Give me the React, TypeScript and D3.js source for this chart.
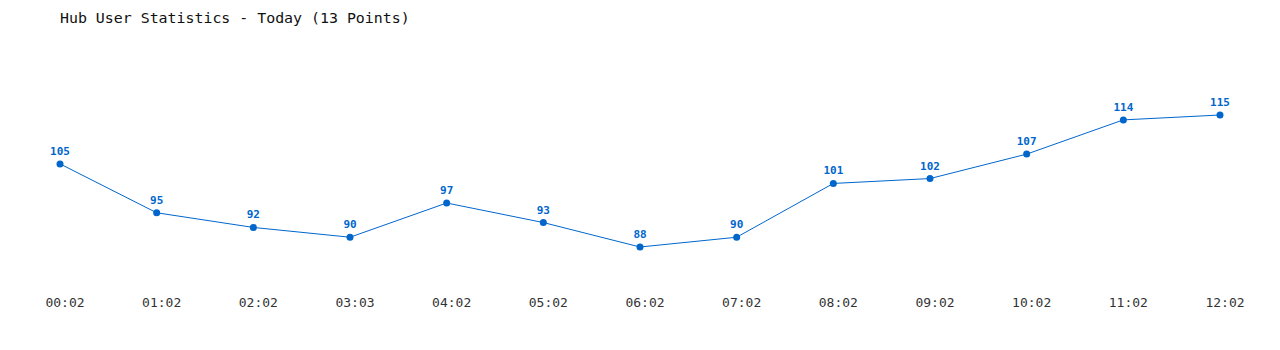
import React from "react";
import * as d3 from "d3";

const categories = ["00:02","01:02","02:02","03:03","04:02","05:02","06:02","07:02","08:02","09:02","10:02","11:02","12:02"];
const values = [105, 95, 92, 90, 97, 93, 88, 90, 101, 102, 107, 114, 115];
const title = "Hub User Statistics - Today (13 Points)";

export default function App() {
  const W = 1280, H = 350;
  const x = d3.scalePoint<string>().domain(categories).range([60, 1220]);
  const y = d3.scaleLinear().domain([88, 115]).range([247, 115]);
  const line = d3.line<number>().x((_, i) => x(categories[i])!).y(d => y(d));
  const color = "#0066cc";
  const font = "'DejaVu Sans Mono', monospace";
  return (
    <svg width={W} height={H} style={{ position: "absolute", left: 0, top: 0, background: "#fff" }}>
      <text x={60} y={23} fontFamily={font} fontSize={14.9} fill="#111">{title}</text>
      <path d={line(values) || ""} fill="none" stroke={color} strokeWidth={1} />
      {values.map((v, i) => (
        <g key={i}>
          <circle cx={x(categories[i])} cy={y(v)} r={3.5} fill={color} />
          <text x={x(categories[i])} y={y(v) - 9} textAnchor="middle" fontFamily={font} fontSize={11} fontWeight="bold" fill={color}>{v}</text>
        </g>
      ))}
      {categories.map((c, i) => (
        <text key={c} x={(x(c) as number) + 5} y={307} textAnchor="middle" fontFamily={font} fontSize={13} fill="#333">{c}</text>
      ))}
    </svg>
  );
}
